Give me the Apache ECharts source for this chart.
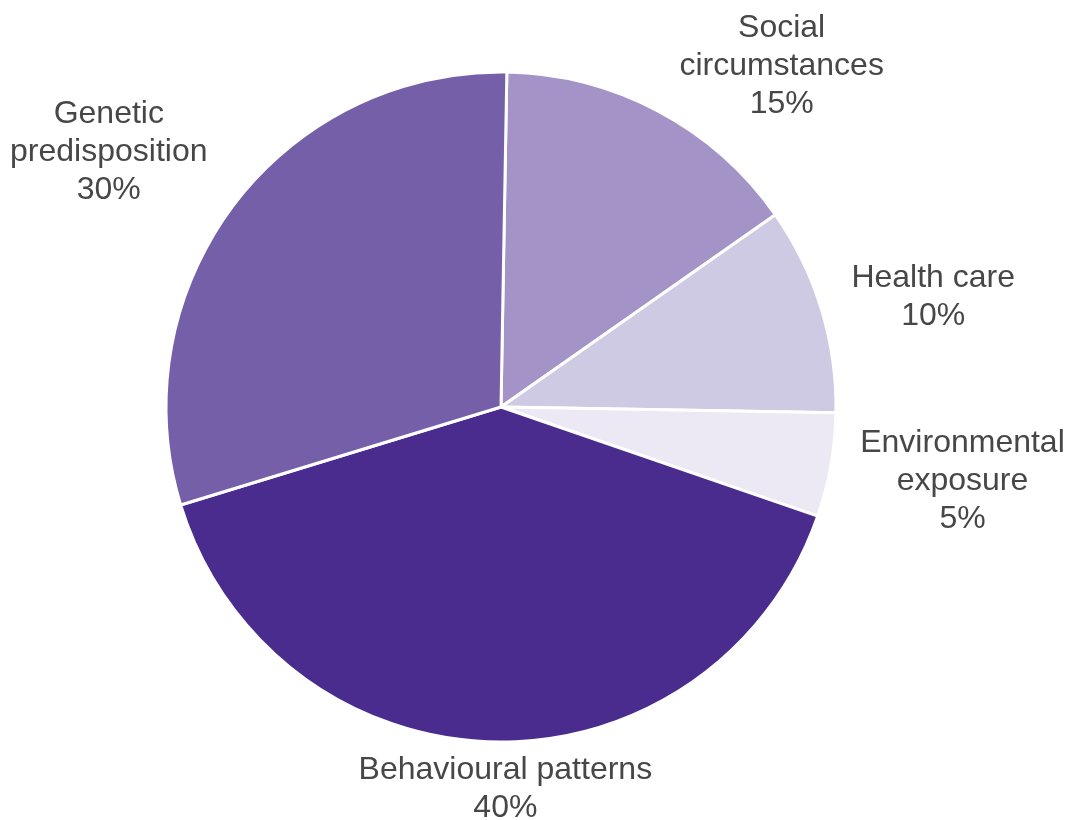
<!DOCTYPE html>
<html>
<head>
<meta charset="utf-8">
<title>Determinants of health</title>
<script src="https://cdn.jsdelivr.net/npm/echarts@6/dist/echarts.min.js"></script>
<style>
  html, body { margin: 0; padding: 0; background: #fff; }
  #pie-box { width: 1068px; height: 820px; }
</style>
</head>
<body>
<div id="pie-box"></div>
<script>
  // slices in clockwise order starting from 12 o'clock
  var categories = ['Social\ncircumstances', 'Health care', 'Environmental\nexposure', 'Behavioural patterns', 'Genetic\npredisposition']
  var shares = [15, 10, 5, 40, 30]
  var sliceColors = ['#a493c7', '#cfcae3', '#ece9f4', '#4a2c8f', '#765fa9']

  var cx = 501, cy = 407

  // small hand nudges for the outside labels (x, y), same order as the slices
  var labelNudge = [[0, -5], [-13, 1], [-15, 8], [11, 2], [10, -26]]

  var chart = echarts.init(document.getElementById('pie-box'), null, {renderer: 'canvas'})

  var option = {
    backgroundColor: '#ffffff',
    animation: false,
    series: [{
      type: 'pie',
      center: [cx, cy],
      radius: [0, 335],
      startAngle: 89,
      clockwise: true,
      avoidLabelOverlap: false,
      itemStyle: {
        borderColor: '#ffffff',
        borderWidth: 3
      },
      label: {
        show: true,
        position: 'outside',
        formatter: function (p) {
          return p.name.split('\n').map(function (s) { return '{t|' + s + '}' }).join('\n') + '\n{t|' + p.value + '%}'
        },
        rich: {
          t: {
            fontFamily: '"Liberation Sans", Arial, sans-serif',
            fontSize: 32,
            lineHeight: 38,
            color: '#474747',
            align: 'center'
          }
        }
      },
      labelLine: {
        show: false,
        length: 45,
        length2: 0
      },
      labelLayout: function (params) {
        var pts = params.labelLinePoints
        if (!pts) return {}
        var p = pts[1]
        var dx = p[0] - cx
        var align = Math.abs(dx) < 20 ? 'center' : (dx > 0 ? 'left' : 'right')
        var n = labelNudge[params.dataIndex]
        return {x: p[0] + n[0], y: p[1] + n[1], align: align, verticalAlign: 'middle'}
      },
      data: categories.map(function (name, i) {
        return {name: name, value: shares[i], itemStyle: {color: sliceColors[i]}}
      })
    }]
  }

  chart.setOption(option)
</script>
</body>
</html>
